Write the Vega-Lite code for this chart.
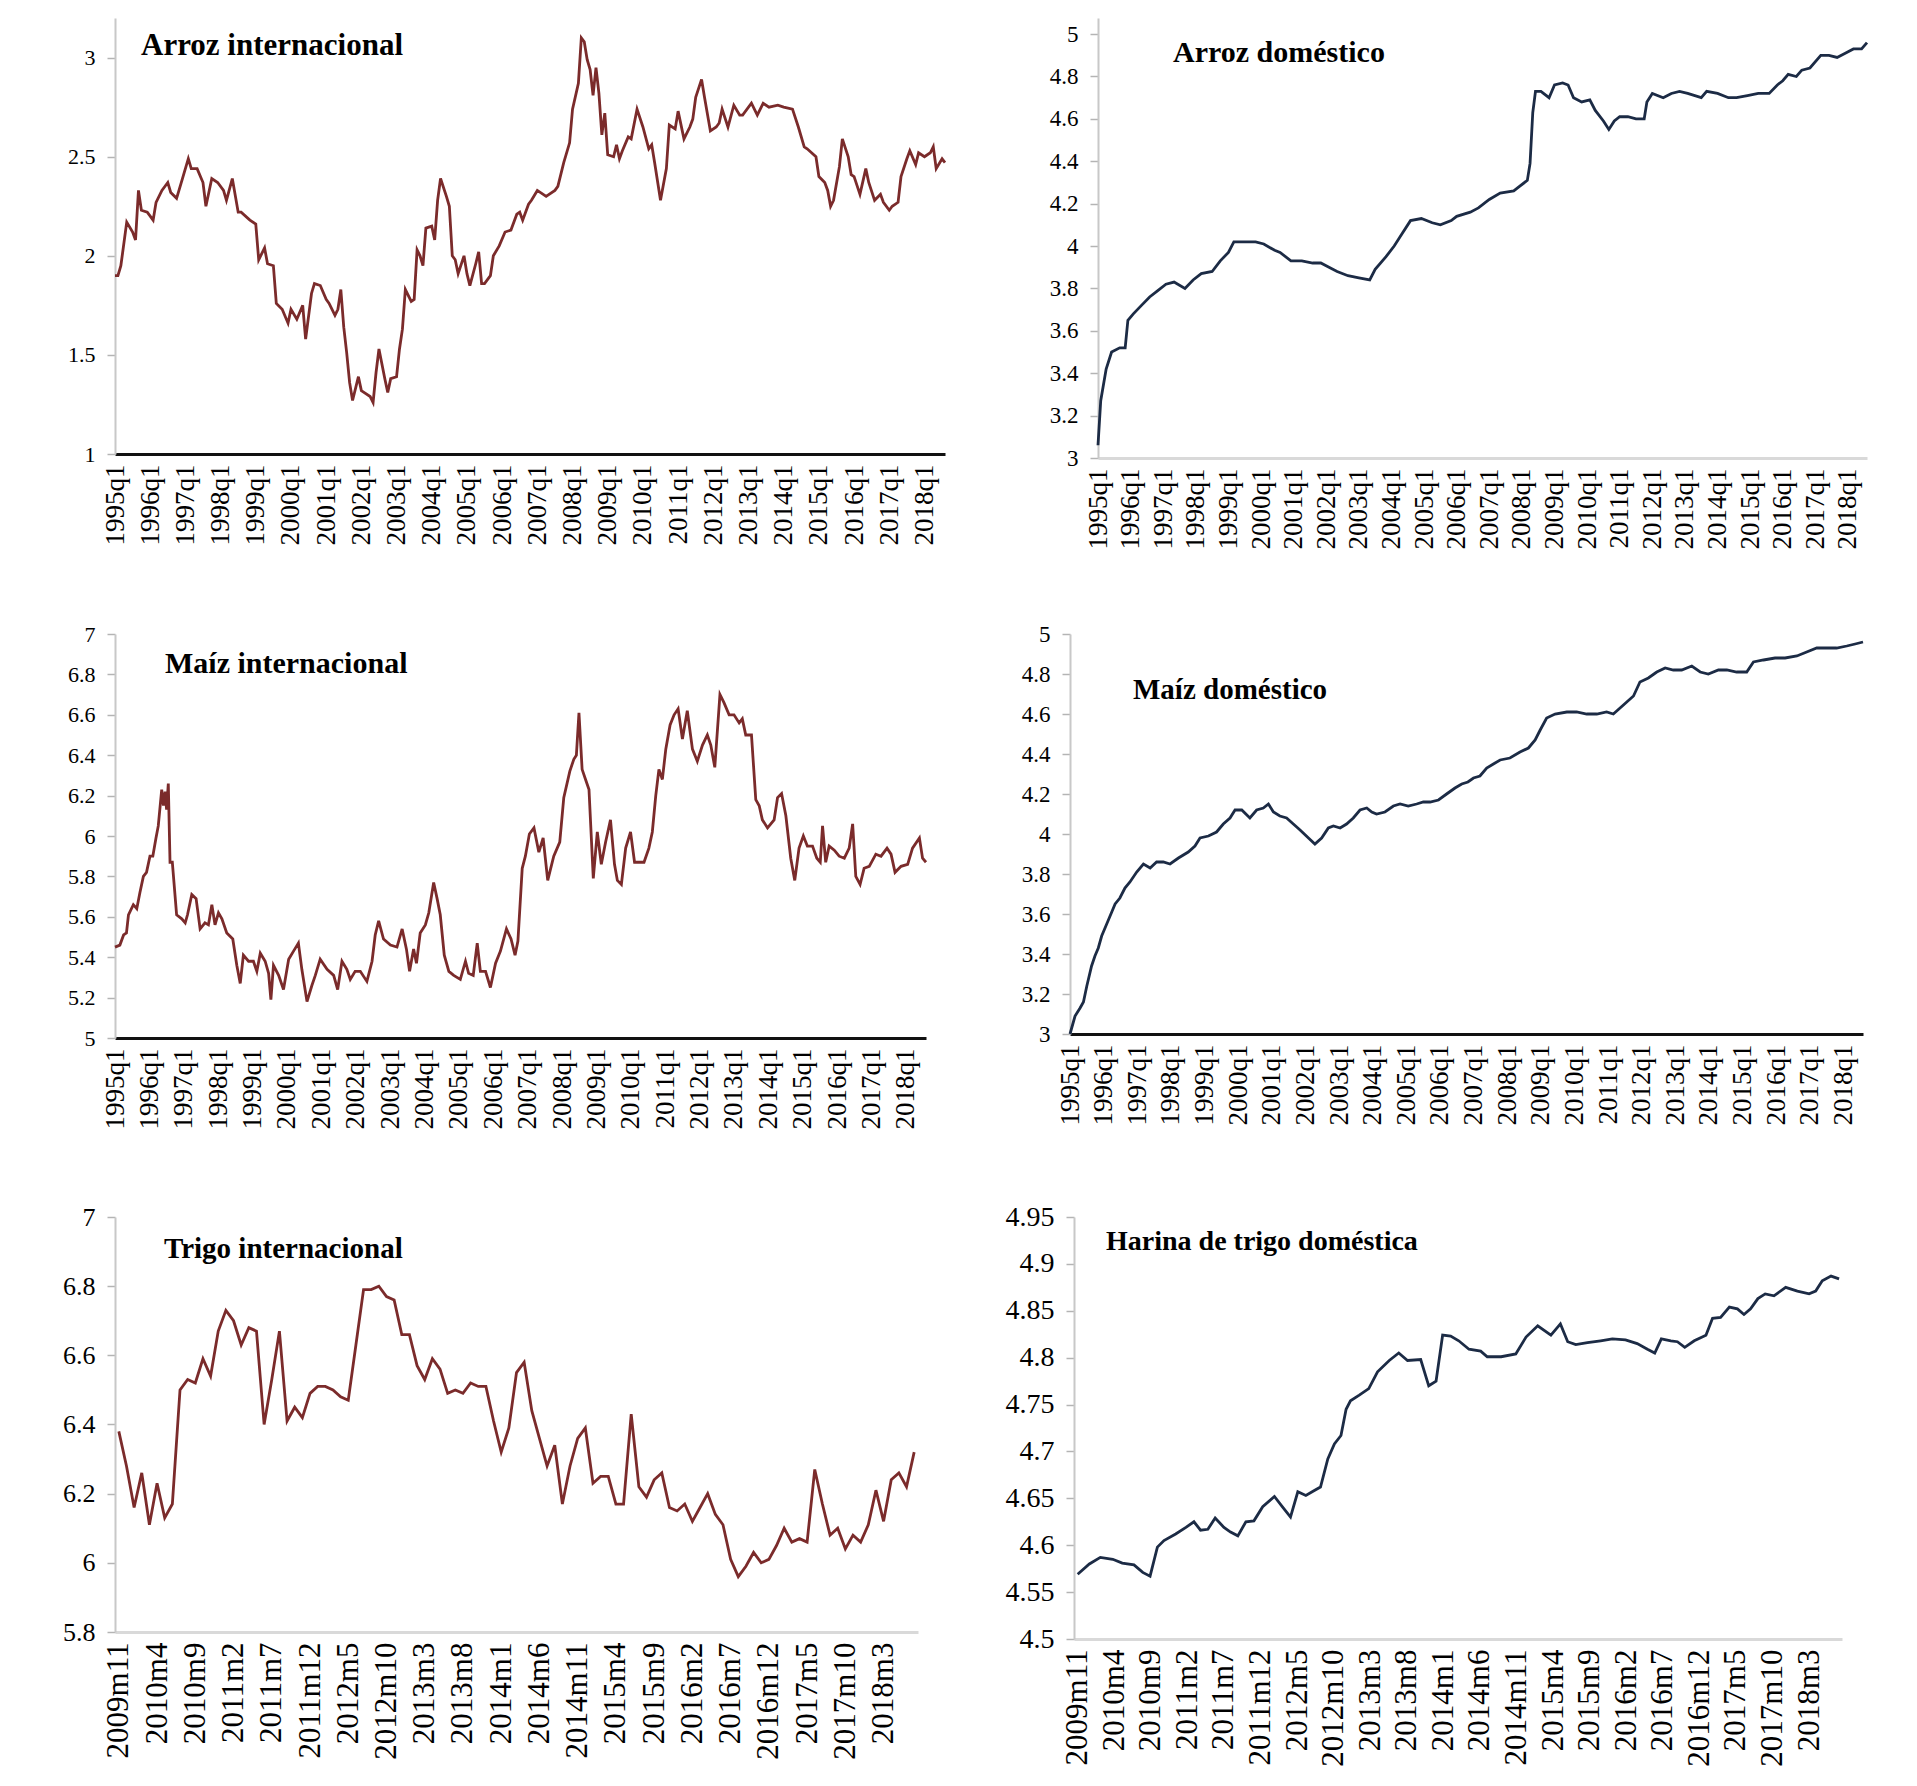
{
"$schema": "https://vega.github.io/schema/vega-lite/v6.json",
"background": "white",
"padding": {"left": 62, "top": 18, "right": 5, "bottom": 5},
"datasets": {
"ai": [{"t":0,"v":1.90},{"t":1,"v":1.90},{"t":2,"v":1.95},{"t":4,"v":2.17},{"t":6,"v":2.12},{"t":7,"v":2.08},{"t":8,"v":2.33},{"t":9,"v":2.23},{"t":11,"v":2.22},{"t":13,"v":2.18},{"t":14,"v":2.27},{"t":16,"v":2.33},{"t":18,"v":2.37},{"t":19,"v":2.32},{"t":21,"v":2.29},{"t":23,"v":2.39},{"t":25,"v":2.49},{"t":26,"v":2.44},{"t":28,"v":2.44},{"t":30,"v":2.37},{"t":31,"v":2.25},{"t":33,"v":2.39},{"t":35,"v":2.37},{"t":37,"v":2.33},{"t":38,"v":2.28},{"t":40,"v":2.39},{"t":42,"v":2.22},{"t":43,"v":2.22},{"t":46,"v":2.18},{"t":48,"v":2.16},{"t":49,"v":1.98},{"t":51,"v":2.04},{"t":52,"v":1.96},{"t":54,"v":1.95},{"t":55,"v":1.76},{"t":57,"v":1.73},{"t":59,"v":1.66},{"t":60,"v":1.73},{"t":62,"v":1.68},{"t":64,"v":1.75},{"t":65,"v":1.58},{"t":67,"v":1.81},{"t":68,"v":1.86},{"t":70,"v":1.85},{"t":72,"v":1.78},{"t":73,"v":1.76},{"t":75,"v":1.70},{"t":76,"v":1.73},{"t":77,"v":1.83},{"t":78,"v":1.64},{"t":79,"v":1.51},{"t":80,"v":1.36},{"t":81,"v":1.27},{"t":83,"v":1.39},{"t":84,"v":1.32},{"t":85,"v":1.31},{"t":87,"v":1.29},{"t":88,"v":1.26},{"t":89,"v":1.41},{"t":90,"v":1.53},{"t":92,"v":1.38},{"t":93,"v":1.31},{"t":94,"v":1.38},{"t":96,"v":1.39},{"t":97,"v":1.53},{"t":98,"v":1.63},{"t":99,"v":1.83},{"t":101,"v":1.77},{"t":102,"v":1.78},{"t":103,"v":2.03},{"t":104,"v":2.00},{"t":105,"v":1.95},{"t":106,"v":2.14},{"t":108,"v":2.15},{"t":109,"v":2.08},{"t":110,"v":2.28},{"t":111,"v":2.39},{"t":113,"v":2.30},{"t":114,"v":2.25},{"t":115,"v":2.00},{"t":116,"v":1.98},{"t":117,"v":1.91},{"t":119,"v":2.00},{"t":120,"v":1.91},{"t":121,"v":1.85},{"t":123,"v":1.96},{"t":124,"v":2.02},{"t":125,"v":1.86},{"t":126,"v":1.86},{"t":128,"v":1.90},{"t":129,"v":2.00},{"t":131,"v":2.05},{"t":133,"v":2.12},{"t":135,"v":2.13},{"t":137,"v":2.21},{"t":138,"v":2.22},{"t":139,"v":2.18},{"t":141,"v":2.26},{"t":142,"v":2.28},{"t":144,"v":2.33},{"t":147,"v":2.30},{"t":150,"v":2.33},{"t":151,"v":2.35},{"t":153,"v":2.47},{"t":155,"v":2.57},{"t":156,"v":2.74},{"t":158,"v":2.87},{"t":159,"v":3.10},{"t":160,"v":3.08},{"t":161,"v":2.99},{"t":162,"v":2.94},{"t":163,"v":2.81},{"t":164,"v":2.95},{"t":165,"v":2.82},{"t":166,"v":2.61},{"t":167,"v":2.72},{"t":168,"v":2.51},{"t":170,"v":2.50},{"t":171,"v":2.56},{"t":172,"v":2.49},{"t":173,"v":2.53},{"t":175,"v":2.60},{"t":176,"v":2.59},{"t":178,"v":2.74},{"t":180,"v":2.65},{"t":182,"v":2.54},{"t":183,"v":2.56},{"t":184,"v":2.47},{"t":186,"v":2.28},{"t":188,"v":2.44},{"t":189,"v":2.66},{"t":191,"v":2.64},{"t":192,"v":2.73},{"t":194,"v":2.59},{"t":196,"v":2.65},{"t":197,"v":2.69},{"t":198,"v":2.80},{"t":200,"v":2.89},{"t":201,"v":2.80},{"t":203,"v":2.63},{"t":205,"v":2.65},{"t":206,"v":2.67},{"t":207,"v":2.74},{"t":209,"v":2.65},{"t":211,"v":2.76},{"t":213,"v":2.71},{"t":214,"v":2.71},{"t":217,"v":2.77},{"t":219,"v":2.71},{"t":221,"v":2.77},{"t":223,"v":2.75},{"t":226,"v":2.76},{"t":228,"v":2.75},{"t":231,"v":2.74},{"t":233,"v":2.65},{"t":235,"v":2.55},{"t":236,"v":2.54},{"t":239,"v":2.50},{"t":240,"v":2.40},{"t":242,"v":2.37},{"t":243,"v":2.33},{"t":244,"v":2.25},{"t":245,"v":2.28},{"t":247,"v":2.45},{"t":248,"v":2.59},{"t":250,"v":2.50},{"t":251,"v":2.41},{"t":252,"v":2.40},{"t":254,"v":2.31},{"t":256,"v":2.44},{"t":257,"v":2.37},{"t":259,"v":2.28},{"t":261,"v":2.31},{"t":262,"v":2.27},{"t":264,"v":2.23},{"t":265,"v":2.25},{"t":267,"v":2.27},{"t":268,"v":2.40},{"t":270,"v":2.49},{"t":271,"v":2.53},{"t":273,"v":2.46},{"t":274,"v":2.52},{"t":276,"v":2.50},{"t":278,"v":2.52},{"t":279,"v":2.55},{"t":280,"v":2.44},{"t":282,"v":2.49},{"t":283,"v":2.47}],
"ad": [{"t":0,"v":3.06},{"t":1,"v":3.27},{"t":3,"v":3.42},{"t":5,"v":3.50},{"t":8,"v":3.52},{"t":10,"v":3.52},{"t":11,"v":3.65},{"t":13,"v":3.68},{"t":16,"v":3.72},{"t":19,"v":3.76},{"t":22,"v":3.79},{"t":25,"v":3.82},{"t":28,"v":3.83},{"t":32,"v":3.80},{"t":35,"v":3.84},{"t":38,"v":3.87},{"t":42,"v":3.88},{"t":45,"v":3.93},{"t":48,"v":3.97},{"t":50,"v":4.02},{"t":54,"v":4.02},{"t":58,"v":4.02},{"t":61,"v":4.01},{"t":65,"v":3.98},{"t":67,"v":3.97},{"t":71,"v":3.93},{"t":75,"v":3.93},{"t":79,"v":3.92},{"t":82,"v":3.92},{"t":85,"v":3.90},{"t":88,"v":3.88},{"t":92,"v":3.86},{"t":96,"v":3.85},{"t":100,"v":3.84},{"t":102,"v":3.89},{"t":106,"v":3.95},{"t":109,"v":4.00},{"t":112,"v":4.06},{"t":115,"v":4.12},{"t":119,"v":4.13},{"t":123,"v":4.11},{"t":126,"v":4.10},{"t":130,"v":4.12},{"t":132,"v":4.14},{"t":137,"v":4.16},{"t":140,"v":4.18},{"t":144,"v":4.22},{"t":148,"v":4.25},{"t":153,"v":4.26},{"t":155,"v":4.28},{"t":158,"v":4.31},{"t":159,"v":4.39},{"t":160,"v":4.63},{"t":161,"v":4.73},{"t":163,"v":4.73},{"t":166,"v":4.70},{"t":168,"v":4.76},{"t":171,"v":4.77},{"t":173,"v":4.76},{"t":175,"v":4.70},{"t":178,"v":4.68},{"t":181,"v":4.69},{"t":183,"v":4.64},{"t":186,"v":4.59},{"t":188,"v":4.55},{"t":190,"v":4.59},{"t":192,"v":4.61},{"t":195,"v":4.61},{"t":198,"v":4.60},{"t":201,"v":4.60},{"t":202,"v":4.68},{"t":204,"v":4.72},{"t":208,"v":4.70},{"t":211,"v":4.72},{"t":214,"v":4.73},{"t":217,"v":4.72},{"t":222,"v":4.70},{"t":224,"v":4.73},{"t":228,"v":4.72},{"t":232,"v":4.70},{"t":235,"v":4.70},{"t":239,"v":4.71},{"t":243,"v":4.72},{"t":247,"v":4.72},{"t":250,"v":4.76},{"t":252,"v":4.78},{"t":254,"v":4.81},{"t":257,"v":4.80},{"t":259,"v":4.83},{"t":262,"v":4.84},{"t":266,"v":4.90},{"t":269,"v":4.90},{"t":272,"v":4.89},{"t":275,"v":4.91},{"t":278,"v":4.93},{"t":281,"v":4.93},{"t":283,"v":4.96}],
"mi": [{"t":0,"v":5.45},{"t":1.7,"v":5.46},{"t":3,"v":5.51},{"t":4,"v":5.52},{"t":4.7,"v":5.61},{"t":6.4,"v":5.66},{"t":7.6,"v":5.64},{"t":8.7,"v":5.72},{"t":9.9,"v":5.80},{"t":11,"v":5.82},{"t":12.2,"v":5.90},{"t":13.2,"v":5.90},{"t":14.3,"v":5.99},{"t":15.1,"v":6.05},{"t":16.3,"v":6.23},{"t":16.9,"v":6.15},{"t":17.5,"v":6.22},{"t":18,"v":6.13},{"t":18.6,"v":6.26},{"t":19.2,"v":5.87},{"t":20,"v":5.87},{"t":21.5,"v":5.61},{"t":23.3,"v":5.59},{"t":24.5,"v":5.57},{"t":25.3,"v":5.61},{"t":26.8,"v":5.71},{"t":28.3,"v":5.69},{"t":29.7,"v":5.54},{"t":31.4,"v":5.57},{"t":32.6,"v":5.56},{"t":33.8,"v":5.66},{"t":34.9,"v":5.56},{"t":36.1,"v":5.62},{"t":37.3,"v":5.59},{"t":39,"v":5.52},{"t":41.1,"v":5.49},{"t":42.5,"v":5.36},{"t":43.7,"v":5.27},{"t":44.8,"v":5.41},{"t":46.6,"v":5.38},{"t":48.3,"v":5.38},{"t":49.5,"v":5.33},{"t":50.7,"v":5.42},{"t":52.4,"v":5.38},{"t":53.6,"v":5.32},{"t":54.4,"v":5.19},{"t":55.3,"v":5.36},{"t":57.1,"v":5.31},{"t":58.8,"v":5.24},{"t":60.6,"v":5.39},{"t":62.3,"v":5.43},{"t":64,"v":5.47},{"t":65.2,"v":5.34},{"t":67,"v":5.18},{"t":68.7,"v":5.26},{"t":69.9,"v":5.31},{"t":71.6,"v":5.39},{"t":74,"v":5.34},{"t":76.3,"v":5.31},{"t":77.7,"v":5.24},{"t":79.2,"v":5.38},{"t":80.9,"v":5.34},{"t":82.1,"v":5.29},{"t":83.8,"v":5.33},{"t":85.6,"v":5.33},{"t":87.9,"v":5.28},{"t":89.7,"v":5.38},{"t":90.8,"v":5.51},{"t":92,"v":5.58},{"t":93.7,"v":5.49},{"t":96.1,"v":5.46},{"t":98.4,"v":5.45},{"t":100.2,"v":5.54},{"t":101.7,"v":5.44},{"t":102.8,"v":5.33},{"t":104.2,"v":5.44},{"t":105.2,"v":5.37},{"t":106.5,"v":5.52},{"t":108.3,"v":5.56},{"t":109.5,"v":5.62},{"t":111.2,"v":5.77},{"t":112.4,"v":5.69},{"t":113.5,"v":5.61},{"t":114.9,"v":5.41},{"t":116.5,"v":5.33},{"t":118.2,"v":5.31},{"t":120.5,"v":5.29},{"t":122.3,"v":5.38},{"t":123.4,"v":5.32},{"t":125,"v":5.31},{"t":126.4,"v":5.47},{"t":127.5,"v":5.33},{"t":129.3,"v":5.33},{"t":131,"v":5.25},{"t":132.8,"v":5.37},{"t":134.5,"v":5.43},{"t":136.6,"v":5.54},{"t":138.2,"v":5.49},{"t":139.6,"v":5.41},{"t":140.6,"v":5.48},{"t":142.1,"v":5.84},{"t":143.2,"v":5.90},{"t":144.6,"v":6.01},{"t":146.2,"v":6.04},{"t":147.9,"v":5.92},{"t":149.4,"v":5.99},{"t":151,"v":5.78},{"t":153.1,"v":5.90},{"t":155.2,"v":5.97},{"t":156.6,"v":6.19},{"t":158.7,"v":6.32},{"t":160.1,"v":6.38},{"t":161,"v":6.40},{"t":161.9,"v":6.61},{"t":163,"v":6.33},{"t":164.2,"v":6.28},{"t":165.4,"v":6.23},{"t":166.9,"v":5.79},{"t":168.3,"v":6.02},{"t":169.7,"v":5.86},{"t":171.2,"v":5.97},{"t":172.9,"v":6.08},{"t":174.3,"v":5.86},{"t":175.3,"v":5.78},{"t":176.7,"v":5.76},{"t":178.2,"v":5.94},{"t":179.9,"v":6.02},{"t":181.3,"v":5.87},{"t":182.8,"v":5.87},{"t":184.6,"v":5.87},{"t":186.3,"v":5.94},{"t":187.5,"v":6.02},{"t":188.7,"v":6.20},{"t":189.8,"v":6.33},{"t":191,"v":6.28},{"t":192.2,"v":6.43},{"t":193.7,"v":6.55},{"t":195.1,"v":6.60},{"t":196.5,"v":6.63},{"t":198,"v":6.48},{"t":199.7,"v":6.62},{"t":201.5,"v":6.43},{"t":203.2,"v":6.37},{"t":205,"v":6.45},{"t":206.7,"v":6.50},{"t":207.9,"v":6.45},{"t":209.3,"v":6.34},{"t":211.1,"v":6.70},{"t":212.5,"v":6.66},{"t":214.3,"v":6.60},{"t":216,"v":6.60},{"t":217.8,"v":6.56},{"t":218.9,"v":6.58},{"t":220.1,"v":6.50},{"t":222.1,"v":6.50},{"t":223.6,"v":6.18},{"t":224.8,"v":6.15},{"t":225.9,"v":6.08},{"t":227.7,"v":6.04},{"t":230,"v":6.08},{"t":231.2,"v":6.19},{"t":232.6,"v":6.21},{"t":234.1,"v":6.10},{"t":235.8,"v":5.89},{"t":237.2,"v":5.78},{"t":238.7,"v":5.94},{"t":240.2,"v":6.00},{"t":241.6,"v":5.95},{"t":243.4,"v":5.95},{"t":244.9,"v":5.89},{"t":246.1,"v":5.87},{"t":246.9,"v":6.05},{"t":248,"v":5.87},{"t":249.2,"v":5.95},{"t":251,"v":5.93},{"t":252.7,"v":5.90},{"t":254.5,"v":5.89},{"t":256.2,"v":5.94},{"t":257.4,"v":6.06},{"t":258.5,"v":5.80},{"t":260,"v":5.76},{"t":261.4,"v":5.84},{"t":263.2,"v":5.85},{"t":265.5,"v":5.91},{"t":267.3,"v":5.90},{"t":269.4,"v":5.94},{"t":270.8,"v":5.91},{"t":272.2,"v":5.82},{"t":274.3,"v":5.85},{"t":276.6,"v":5.86},{"t":278.3,"v":5.94},{"t":280.7,"v":5.99},{"t":281.8,"v":5.89},{"t":283,"v":5.87}],
"md": [{"t":0,"v":3.00},{"t":1.8,"v":3.09},{"t":3.6,"v":3.13},{"t":4.8,"v":3.16},{"t":6,"v":3.24},{"t":7.7,"v":3.34},{"t":8.9,"v":3.39},{"t":10.1,"v":3.43},{"t":11.3,"v":3.49},{"t":13.1,"v":3.55},{"t":14.9,"v":3.61},{"t":16.1,"v":3.65},{"t":17.8,"v":3.68},{"t":19.6,"v":3.73},{"t":21.4,"v":3.76},{"t":23.8,"v":3.81},{"t":26.2,"v":3.85},{"t":28.6,"v":3.83},{"t":30.9,"v":3.86},{"t":33.3,"v":3.86},{"t":35.7,"v":3.85},{"t":38.7,"v":3.88},{"t":42.2,"v":3.91},{"t":44.6,"v":3.94},{"t":46.4,"v":3.98},{"t":49.4,"v":3.99},{"t":52.3,"v":4.01},{"t":54.7,"v":4.05},{"t":57.1,"v":4.08},{"t":58.9,"v":4.12},{"t":61.3,"v":4.12},{"t":64.2,"v":4.08},{"t":66.6,"v":4.12},{"t":69,"v":4.13},{"t":70.8,"v":4.15},{"t":72.6,"v":4.11},{"t":74.9,"v":4.09},{"t":77.3,"v":4.08},{"t":79.7,"v":4.05},{"t":82.1,"v":4.02},{"t":85.1,"v":3.98},{"t":87.4,"v":3.95},{"t":89.8,"v":3.98},{"t":92.2,"v":4.03},{"t":94,"v":4.04},{"t":96.4,"v":4.03},{"t":98.7,"v":4.05},{"t":101.1,"v":4.08},{"t":103.5,"v":4.12},{"t":105.9,"v":4.13},{"t":107.7,"v":4.11},{"t":109.4,"v":4.10},{"t":112.4,"v":4.11},{"t":115.4,"v":4.14},{"t":117.8,"v":4.15},{"t":120.7,"v":4.14},{"t":123.7,"v":4.15},{"t":126.1,"v":4.16},{"t":128.5,"v":4.16},{"t":131.5,"v":4.17},{"t":134.4,"v":4.20},{"t":137.4,"v":4.23},{"t":139.8,"v":4.25},{"t":142,"v":4.26},{"t":144,"v":4.28},{"t":146.3,"v":4.29},{"t":148.7,"v":4.33},{"t":151.1,"v":4.35},{"t":153.5,"v":4.37},{"t":157,"v":4.38},{"t":160.6,"v":4.41},{"t":163.6,"v":4.43},{"t":166,"v":4.47},{"t":167.8,"v":4.52},{"t":170.1,"v":4.58},{"t":173.1,"v":4.60},{"t":177.3,"v":4.61},{"t":180.8,"v":4.61},{"t":184.4,"v":4.60},{"t":188,"v":4.60},{"t":191.5,"v":4.61},{"t":193.9,"v":4.60},{"t":196.3,"v":4.63},{"t":198.7,"v":4.66},{"t":201.1,"v":4.69},{"t":203.4,"v":4.76},{"t":206.4,"v":4.78},{"t":209.4,"v":4.81},{"t":212.4,"v":4.83},{"t":215.3,"v":4.82},{"t":218.3,"v":4.82},{"t":221.9,"v":4.84},{"t":224.9,"v":4.81},{"t":227.8,"v":4.80},{"t":231.4,"v":4.82},{"t":234.4,"v":4.82},{"t":237.9,"v":4.81},{"t":241.5,"v":4.81},{"t":243.9,"v":4.86},{"t":247.5,"v":4.87},{"t":251.6,"v":4.88},{"t":255.2,"v":4.88},{"t":259.4,"v":4.89},{"t":262.9,"v":4.91},{"t":266.5,"v":4.93},{"t":270.1,"v":4.93},{"t":273.6,"v":4.93},{"t":277.2,"v":4.94},{"t":280.2,"v":4.95},{"t":283,"v":4.96}],
"ti": [{"t":0,"v":6.38},{"t":1,"v":6.28},{"t":2,"v":6.16},{"t":3,"v":6.26},{"t":4,"v":6.11},{"t":5,"v":6.23},{"t":6,"v":6.13},{"t":7,"v":6.17},{"t":8,"v":6.50},{"t":9,"v":6.53},{"t":10,"v":6.52},{"t":11,"v":6.59},{"t":12,"v":6.54},{"t":13,"v":6.67},{"t":14,"v":6.73},{"t":15,"v":6.70},{"t":16,"v":6.63},{"t":17,"v":6.68},{"t":18,"v":6.67},{"t":19,"v":6.40},{"t":20,"v":6.53},{"t":21,"v":6.67},{"t":22,"v":6.41},{"t":23,"v":6.45},{"t":24,"v":6.42},{"t":25,"v":6.49},{"t":26,"v":6.51},{"t":27,"v":6.51},{"t":28,"v":6.50},{"t":29,"v":6.48},{"t":30,"v":6.47},{"t":31,"v":6.63},{"t":32,"v":6.79},{"t":33,"v":6.79},{"t":34,"v":6.80},{"t":35,"v":6.77},{"t":36,"v":6.76},{"t":37,"v":6.66},{"t":38,"v":6.66},{"t":39,"v":6.57},{"t":40,"v":6.53},{"t":41,"v":6.59},{"t":42,"v":6.56},{"t":43,"v":6.49},{"t":44,"v":6.50},{"t":45,"v":6.49},{"t":46,"v":6.52},{"t":47,"v":6.51},{"t":48,"v":6.51},{"t":49,"v":6.41},{"t":50,"v":6.32},{"t":51,"v":6.39},{"t":52,"v":6.55},{"t":53,"v":6.58},{"t":54,"v":6.44},{"t":55,"v":6.36},{"t":56,"v":6.28},{"t":57,"v":6.34},{"t":58,"v":6.17},{"t":59,"v":6.28},{"t":60,"v":6.36},{"t":61,"v":6.39},{"t":62,"v":6.23},{"t":63,"v":6.25},{"t":64,"v":6.25},{"t":65,"v":6.17},{"t":66,"v":6.17},{"t":67,"v":6.43},{"t":68,"v":6.22},{"t":69,"v":6.19},{"t":70,"v":6.24},{"t":71,"v":6.26},{"t":72,"v":6.16},{"t":73,"v":6.15},{"t":74,"v":6.17},{"t":75,"v":6.12},{"t":76,"v":6.16},{"t":77,"v":6.20},{"t":78,"v":6.14},{"t":79,"v":6.11},{"t":80,"v":6.01},{"t":81,"v":5.96},{"t":82,"v":5.99},{"t":83,"v":6.03},{"t":84,"v":6.00},{"t":85,"v":6.01},{"t":86,"v":6.05},{"t":87,"v":6.10},{"t":88,"v":6.06},{"t":89,"v":6.07},{"t":90,"v":6.06},{"t":91,"v":6.27},{"t":92,"v":6.17},{"t":93,"v":6.08},{"t":94,"v":6.10},{"t":95,"v":6.04},{"t":96,"v":6.08},{"t":97,"v":6.06},{"t":98,"v":6.11},{"t":99,"v":6.21},{"t":100,"v":6.12},{"t":101,"v":6.24},{"t":102,"v":6.26},{"t":103,"v":6.22},{"t":104,"v":6.32}],
"hd": [{"t":0,"v":4.569},{"t":1.6,"v":4.580},{"t":3.1,"v":4.587},{"t":4.8,"v":4.585},{"t":6.1,"v":4.581},{"t":7.7,"v":4.579},{"t":8.9,"v":4.571},{"t":9.9,"v":4.567},{"t":10.9,"v":4.598},{"t":11.8,"v":4.605},{"t":13.4,"v":4.612},{"t":14.8,"v":4.619},{"t":15.9,"v":4.625},{"t":16.8,"v":4.616},{"t":17.8,"v":4.617},{"t":18.8,"v":4.629},{"t":20,"v":4.619},{"t":20.9,"v":4.614},{"t":21.9,"v":4.610},{"t":23,"v":4.625},{"t":24.1,"v":4.626},{"t":25.3,"v":4.641},{"t":26.9,"v":4.652},{"t":28,"v":4.641},{"t":29.1,"v":4.630},{"t":30.1,"v":4.657},{"t":31.2,"v":4.653},{"t":32.3,"v":4.658},{"t":33.2,"v":4.662},{"t":34.2,"v":4.692},{"t":35.1,"v":4.708},{"t":36,"v":4.717},{"t":36.7,"v":4.745},{"t":37.3,"v":4.754},{"t":38.5,"v":4.760},{"t":39.8,"v":4.767},{"t":41,"v":4.785},{"t":42.6,"v":4.797},{"t":43.9,"v":4.805},{"t":45.1,"v":4.797},{"t":46.9,"v":4.798},{"t":48,"v":4.770},{"t":49,"v":4.775},{"t":49.9,"v":4.824},{"t":51,"v":4.823},{"t":52.1,"v":4.818},{"t":53.5,"v":4.809},{"t":55.1,"v":4.807},{"t":56,"v":4.801},{"t":57.9,"v":4.801},{"t":59.9,"v":4.804},{"t":61.3,"v":4.822},{"t":62.9,"v":4.834},{"t":64.7,"v":4.824},{"t":66,"v":4.836},{"t":67,"v":4.817},{"t":68.1,"v":4.814},{"t":69.7,"v":4.816},{"t":71.5,"v":4.818},{"t":73.1,"v":4.820},{"t":74.9,"v":4.819},{"t":76.5,"v":4.815},{"t":77.9,"v":4.809},{"t":78.9,"v":4.805},{"t":79.8,"v":4.820},{"t":81.1,"v":4.818},{"t":82,"v":4.817},{"t":83,"v":4.811},{"t":84.3,"v":4.818},{"t":85.9,"v":4.824},{"t":86.8,"v":4.842},{"t":87.9,"v":4.843},{"t":89.1,"v":4.854},{"t":90.2,"v":4.852},{"t":91.1,"v":4.846},{"t":92,"v":4.852},{"t":93,"v":4.863},{"t":94,"v":4.868},{"t":95.2,"v":4.866},{"t":96.8,"v":4.875},{"t":98.4,"v":4.871},{"t":100,"v":4.868},{"t":100.9,"v":4.871},{"t":101.8,"v":4.882},{"t":103,"v":4.887},{"t":104.1,"v":4.884}]
},
"spacing": 74,
"vconcat": [
{"hconcat": [
{"width": 830, "height": 436, "data": {"name": "ai"},
 "title": {"text": "Arroz internacional", "anchor": "start", "frame": "group", "dx": 26, "offset": -68, "fontSize": 31, "baseline": "alphabetic"},
 "mark": {"type": "line", "color": "#7b2b2b", "strokeWidth": 2.8},
 "encoding": {
  "x": {"field": "t", "type": "quantitative", "title": null, "scale": {"domain": [0, 283], "nice": false, "zero": false},
        "axis": {"values": [0,12,24,36,48,60,72,84,96,108,120,132,144,156,168,180,192,204,216,228,240,252,264,276], "labelExpr": "(1995 + datum.value/12) + 'q1'", "domainColor": "#111111", "domainWidth": 3}},
  "y": {"field": "v", "type": "quantitative", "title": null, "scale": {"domain": [1, 3.2], "nice": false, "zero": false},
        "axis": {"values": [1, 1.5, 2, 2.5, 3], "labelFontSize": 22}}
 }},
{"width": 769, "height": 440, "data": {"name": "ad"},
 "title": {"text": "Arroz doméstico", "anchor": "start", "frame": "group", "dx": 75, "offset": -74, "fontSize": 30, "baseline": "alphabetic"},
 "mark": {"type": "line", "color": "#1c2b45", "strokeWidth": 2.8},
 "encoding": {
  "x": {"field": "t", "type": "quantitative", "title": null, "scale": {"domain": [0, 283], "nice": false, "zero": false},
        "axis": {"values": [0,12,24,36,48,60,72,84,96,108,120,132,144,156,168,180,192,204,216,228,240,252,264,276], "labelExpr": "(1995 + datum.value/12) + 'q1'", "domainColor": "#d9d9d9", "domainWidth": 3}},
  "y": {"field": "v", "type": "quantitative", "title": null, "scale": {"domain": [3, 5.076], "nice": false, "zero": false},
        "axis": {"values": [3, 3.2, 3.4, 3.6, 3.8, 4, 4.2, 4.4, 4.6, 4.8, 5], "labelFontSize": 23}}
 }}
], "spacing": 153, "bounds": "flush"},
{"hconcat": [
{"width": 811, "height": 404, "data": {"name": "mi"},
 "title": {"text": "Maíz internacional", "anchor": "start", "frame": "group", "dx": 50, "offset": -80, "fontSize": 30, "baseline": "alphabetic"},
 "mark": {"type": "line", "color": "#7b2b2b", "strokeWidth": 2.8},
 "encoding": {
  "x": {"field": "t", "type": "quantitative", "title": null, "scale": {"domain": [0, 283], "nice": false, "zero": false},
        "axis": {"values": [0,12,24,36,48,60,72,84,96,108,120,132,144,156,168,180,192,204,216,228,240,252,264,276], "labelExpr": "(1995 + datum.value/12) + 'q1'", "domainColor": "#111111", "domainWidth": 3}},
  "y": {"field": "v", "type": "quantitative", "title": null, "scale": {"domain": [5, 7], "nice": false, "zero": false},
        "axis": {"values": [5, 5.2, 5.4, 5.6, 5.8, 6, 6.2, 6.4, 6.6, 6.8, 7], "labelFontSize": 22}}
 }},
{"width": 793, "height": 400, "data": {"name": "md"},
 "title": {"text": "Maíz doméstico", "anchor": "start", "frame": "group", "dx": 63, "offset": -105, "fontSize": 29, "baseline": "alphabetic"},
 "mark": {"type": "line", "color": "#1c2b45", "strokeWidth": 2.8},
 "encoding": {
  "x": {"field": "t", "type": "quantitative", "title": null, "scale": {"domain": [0, 283], "nice": false, "zero": false},
        "axis": {"values": [0,12,24,36,48,60,72,84,96,108,120,132,144,156,168,180,192,204,216,228,240,252,264,276], "labelExpr": "(1995 + datum.value/12) + 'q1'", "domainColor": "#111111", "domainWidth": 3}},
  "y": {"field": "v", "type": "quantitative", "title": null, "scale": {"domain": [3, 5], "nice": false, "zero": false},
        "axis": {"values": [3, 3.2, 3.4, 3.6, 3.8, 4, 4.2, 4.4, 4.6, 4.8, 5], "labelFontSize": 23}}
 }}
], "spacing": 144, "bounds": "flush"},
{"hconcat": [
{"width": 803, "height": 415, "data": {"name": "ti"},
 "title": {"text": "Trigo internacional", "anchor": "start", "frame": "group", "dx": 49, "offset": -83, "fontSize": 29, "baseline": "alphabetic"},
 "mark": {"type": "line", "color": "#7b2b2b", "strokeWidth": 2.8},
 "encoding": {
  "x": {"field": "t", "type": "quantitative", "title": null, "scale": {"domain": [-0.5, 104.5], "nice": false, "zero": false},
        "axis": {"values": [0,5,10,15,20,25,30,35,40,45,50,55,60,65,70,75,80,85,90,95,100], "labelExpr": "(2009 + floor((datum.value + 10)/12)) + 'm' + ((datum.value + 10) % 12 + 1)", "domainColor": "#d9d9d9", "domainWidth": 3, "labelFontSize": 31}},
  "y": {"field": "v", "type": "quantitative", "title": null, "scale": {"domain": [5.8, 7], "nice": false, "zero": false},
        "axis": {"values": [5.8, 6, 6.2, 6.4, 6.6, 6.8, 7], "labelFontSize": 26}}
 }},
{"width": 768, "height": 422, "data": {"name": "hd"},
 "title": {"text": "Harina de trigo doméstica", "anchor": "start", "frame": "group", "dx": 32, "offset": -75, "fontSize": 28, "baseline": "alphabetic"},
 "mark": {"type": "line", "color": "#1c2b45", "strokeWidth": 2.8},
 "encoding": {
  "x": {"field": "t", "type": "quantitative", "title": null, "scale": {"domain": [-0.5, 104.5], "nice": false, "zero": false},
        "axis": {"values": [0,5,10,15,20,25,30,35,40,45,50,55,60,65,70,75,80,85,90,95,100], "labelExpr": "(2009 + floor((datum.value + 10)/12)) + 'm' + ((datum.value + 10) % 12 + 1)", "domainColor": "#d9d9d9", "domainWidth": 3, "labelFontSize": 31}},
  "y": {"field": "v", "type": "quantitative", "title": null, "scale": {"domain": [4.5, 4.95], "nice": false, "zero": false},
        "axis": {"values": [4.5, 4.55, 4.6, 4.65, 4.7, 4.75, 4.8, 4.85, 4.9, 4.95], "labelFontSize": 28}}
 }}
], "spacing": 156, "bounds": "flush"}
],
"config": {
 "view": {"stroke": null},
 "font": "Liberation Serif",
 "title": {"font": "Liberation Serif", "fontWeight": "bold", "color": "#000000"},
 "axis": {"labelFont": "Liberation Serif", "labelFontSize": 24, "labelColor": "#000000", "grid": false, "domainColor": "#c8c8c8", "domainWidth": 2, "tickColor": "#b4b4b4", "tickSize": 8, "tickWidth": 1.5, "labelPadding": 12, "labelOverlap": false, "labelFlush": false, "format": "~g"},
 "axisX": {"ticks": false, "labelAngle": -90, "labelPadding": 10, "labelFontSize": 27}
}
}
